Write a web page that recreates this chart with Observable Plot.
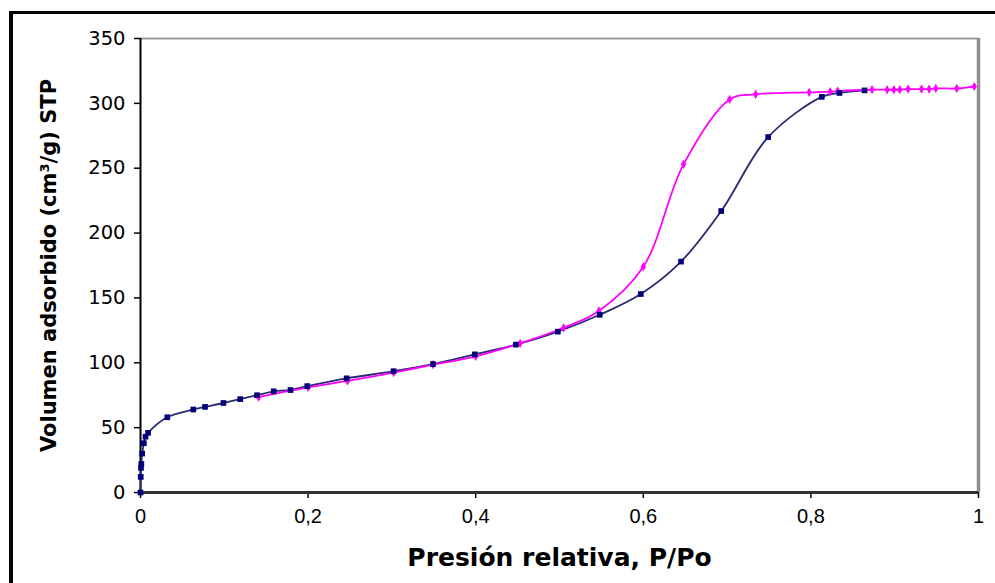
<!DOCTYPE html>
<html>
<head>
<meta charset="utf-8">
<script src="https://cdn.jsdelivr.net/npm/d3@7"></script>
<script src="https://cdn.jsdelivr.net/npm/@observablehq/plot@0.6"></script>
<style>
  html, body { margin: 0; padding: 0; background: #fff; overflow: hidden; }
  #wrap { position: relative; width: 995px; height: 583px; }
  #frame { position: absolute; left: 9px; top: 11px; width: 1100px; height: 700px;
           border-left: 4px solid #000; border-top: 3px solid #000; pointer-events: none; }
</style>
</head>
<body>
<div id="wrap"><div id="frame"></div></div>
<script>
// Adsorption branch (navy)
const adsX = [0, 0.0003, 0.0006, 0.001, 0.002, 0.004, 0.006, 0.009, 0.032, 0.063, 0.077, 0.099, 0.119, 0.139, 0.159, 0.179, 0.199, 0.246, 0.302, 0.349, 0.399, 0.448, 0.498, 0.548, 0.597, 0.645, 0.693, 0.749, 0.813, 0.834, 0.864];
const adsY = [0, 12, 19, 22, 30, 38, 43, 46, 58, 64, 66, 69, 72, 75, 78, 79, 82, 88, 93.5, 99, 106.5, 114, 124, 137, 153, 178, 217, 274, 305, 308, 310];
// Desorption branch (magenta)
const desX = [0.141, 0.2, 0.247, 0.302, 0.349, 0.4, 0.453, 0.505, 0.547, 0.6, 0.648, 0.703, 0.734, 0.798, 0.823, 0.832, 0.873, 0.891, 0.899, 0.906, 0.916, 0.932, 0.941, 0.949, 0.974, 0.995];
const desY = [73.5, 81, 86, 92.5, 98.5, 105, 115, 127, 140, 174, 253, 303, 307, 308.5, 309, 309.5, 310.5, 310.5, 310.5, 310.5, 311, 311, 311, 311.5, 311.5, 313];

const xTicks = [0, 0.2, 0.4, 0.6, 0.8, 1];
const yTicks = [0, 50, 100, 150, 200, 250, 300, 350];
const xLabel = "Presión relativa, P/Po";
const yLabel = "Volumen adsorbido (cm³/g) STP";

const ads = adsX.map((x, i) => ({x, y: adsY[i]}));
const des = desX.map((x, i) => ({x, y: desY[i]}));

const chart = Plot.plot({
  width: 995,
  height: 583,
  marginLeft: 140,
  marginRight: 17,
  marginTop: 38,
  marginBottom: 91,
  style: {background: "transparent", fontFamily: "'Liberation Sans', Arial, sans-serif", fontSize: "20px", color: "#000"},
  x: {domain: [0, 1]},
  y: {domain: [0, 350]},
  marks: [
    Plot.axisX({ticks: xTicks, tickFormat: d => String(d).replace(".", ","), tickSize: 6, tickPadding: 10,
                label: xLabel, labelAnchor: "center", labelOffset: 73, labelArrow: "none"}),
    Plot.axisY({ticks: yTicks, tickSize: 6, tickPadding: 9, fontFamily: "'DejaVu Sans', sans-serif", fontSize: 19.5,
                label: yLabel, labelAnchor: "center", labelOffset: 99, labelArrow: "none"}),
    Plot.ruleY([350], {stroke: "#9a9a9a", strokeWidth: 2}),
    Plot.ruleX([1], {stroke: "#8f8f8f", strokeWidth: 3.5}),
    Plot.ruleX([0], {stroke: "#000", strokeWidth: 2}),
    Plot.ruleY([0], {stroke: "#333", strokeWidth: 3}),
    Plot.line(ads, {x: "x", y: "y", curve: "catmull-rom", stroke: "#2a2a70", strokeWidth: 1.8}),
    Plot.line(des, {x: "x", y: "y", curve: "catmull-rom", stroke: "#ff00ff", strokeWidth: 1.8}),
    Plot.dot(des, {x: "x", y: "y", symbol: "diamond", r: 2.8, fill: "#ff00ff", stroke: "none"}),
    Plot.dot(ads, {x: "x", y: "y", symbol: "square", r: 3.2, fill: "#00007a", stroke: "none"})
  ]
});

const svg = d3.select(chart);
svg.select('g[aria-label="x-axis label"]')
  .attr("font-family", "'DejaVu Sans', sans-serif").attr("font-size", 25).attr("font-weight", "bold");
svg.select('g[aria-label="y-axis label"]')
  .attr("font-family", "'DejaVu Sans', sans-serif").attr("font-size", 21).attr("font-weight", "bold");
svg.selectAll('g[aria-label="x-axis tick"], g[aria-label="y-axis tick"]').attr("stroke", "#000").attr("stroke-width", 1.5);
svg.style("position", "absolute").style("left", "0px").style("top", "0px");
document.getElementById("wrap").insertBefore(chart, document.getElementById("frame"));
</script>
</body>
</html>
